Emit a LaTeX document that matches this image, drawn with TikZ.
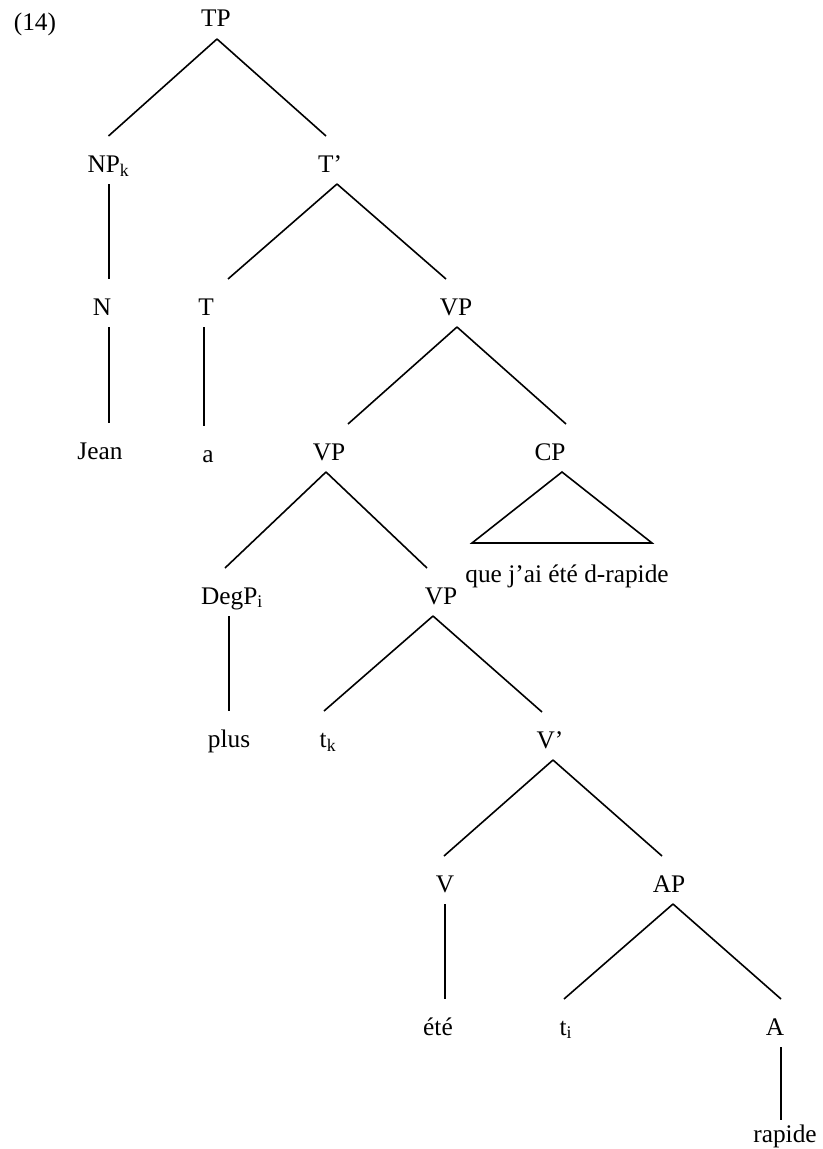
\documentclass[tikz,border=0pt]{standalone}
\usepackage{fontspec}
\setmainfont{Liberation Serif}
\usetikzlibrary{calc}
\begin{document}
\begin{tikzpicture}[x=0.75pt,y=-0.75pt,
  lab/.style={inner sep=0pt,outer sep=0pt,anchor=base,text height=27pt,text depth=9pt,
    font=\fontsize{19}{22}\selectfont},
  lastlab/.style={lab,text height=16.5pt},
  branch/.style={line width=1.2pt}]
\useasboundingbox (0,0) rectangle (823,1149);
% labels (x = text centre, y = baseline, in px)
\node[lab] (ex) at (35,31) {(14)};
\node[lab] (TP) at (216,27) {TP};
\node[lab] (NPk) at (108.5,172) {NP\textsubscript{k}};
\node[lab] (Tbar) at (330,172) {T’};
\node[lab] (N) at (102,315) {N};
\node[lab] (T) at (206,315) {T};
\node[lab] (VPa) at (456,315) {VP};
\node[lab] (Jean) at (100,459) {Jean};
\node[lab] (a) at (208,462) {a};
\node[lab] (VPb) at (329,460) {VP};
\node[lab] (CP) at (550,460) {CP};
\node[lab] (que) at (567,582) {que j’ai été d-rapide};
\node[lab] (DegP) at (232,604) {DegP\textsubscript{i}};
\node[lab] (VPc) at (441,604) {VP};
\node[lab] (plus) at (229,747) {plus};
\node[lab] (tk) at (328,747) {t\textsubscript{k}};
\node[lab] (Vbar) at (550,748) {V’};
\node[lab] (V) at (445,892) {V};
\node[lab] (AP) at (669,892) {AP};
\node[lab] (ete) at (438,1035) {été};
\node[lab] (ti) at (566,1035) {t\textsubscript{i}};
\node[lab] (A) at (775,1035) {A};
\node[lastlab] (rapide) at (785,1142) {rapide};
% branches
\draw[branch] ($(TP.south)+(1,0)$) -- (NPk.north);
\draw[branch] ($(TP.south)+(1,0)$) -- ($(Tbar.north)+(-4,0)$);
\draw[branch] ($(NPk.south)+(0.5,0)$) -- ($(N.north)+(7,0)$);
\draw[branch] ($(Tbar.south)+(7,0)$) -- ($(T.north)+(22,0)$);
\draw[branch] ($(Tbar.south)+(7,0)$) -- ($(VPa.north)+(-10,0)$);
\draw[branch] ($(N.south)+(7,0)$) -- ($(Jean.north)+(9,0)$);
\draw[branch] ($(T.south)+(-2,0)$) -- ($(a.north)+(-4,0)$);
\draw[branch] ($(VPa.south)+(1,0)$) -- ($(VPb.north)+(19,0)$);
\draw[branch] ($(VPa.south)+(1,0)$) -- ($(CP.north)+(16,0)$);
\draw[branch] ($(CP.south)+(12,0)$) -- ++(-90,71) -- ++(180,0) -- cycle;
\draw[branch] ($(VPb.south)+(-3,0)$) -- ($(DegP.north)+(-7,0)$);
\draw[branch] ($(VPb.south)+(-3,0)$) -- ($(VPc.north)+(-14,0)$);
\draw[branch] ($(DegP.south)+(-3,0)$) -- (plus.north);
\draw[branch] ($(VPc.south)+(-8,0)$) -- ($(tk.north)+(-4,0)$);
\draw[branch] ($(VPc.south)+(-8,0)$) -- ($(Vbar.north)+(-8,0)$);
\draw[branch] ($(Vbar.south)+(3,0)$) -- ($(V.north)+(-1,0)$);
\draw[branch] ($(Vbar.south)+(3,0)$) -- ($(AP.north)+(-7,0)$);
\draw[branch] (V.south) -- ($(ete.north)+(7,0)$);
\draw[branch] ($(AP.south)+(4,0)$) -- ($(ti.north)+(-2,0)$);
\draw[branch] ($(AP.south)+(4,0)$) -- ($(A.north)+(6,0)$);
\draw[branch] ($(A.south)+(6,0)$) -- ($(rapide.north)+(-4,0)$);
\end{tikzpicture}
\end{document}
